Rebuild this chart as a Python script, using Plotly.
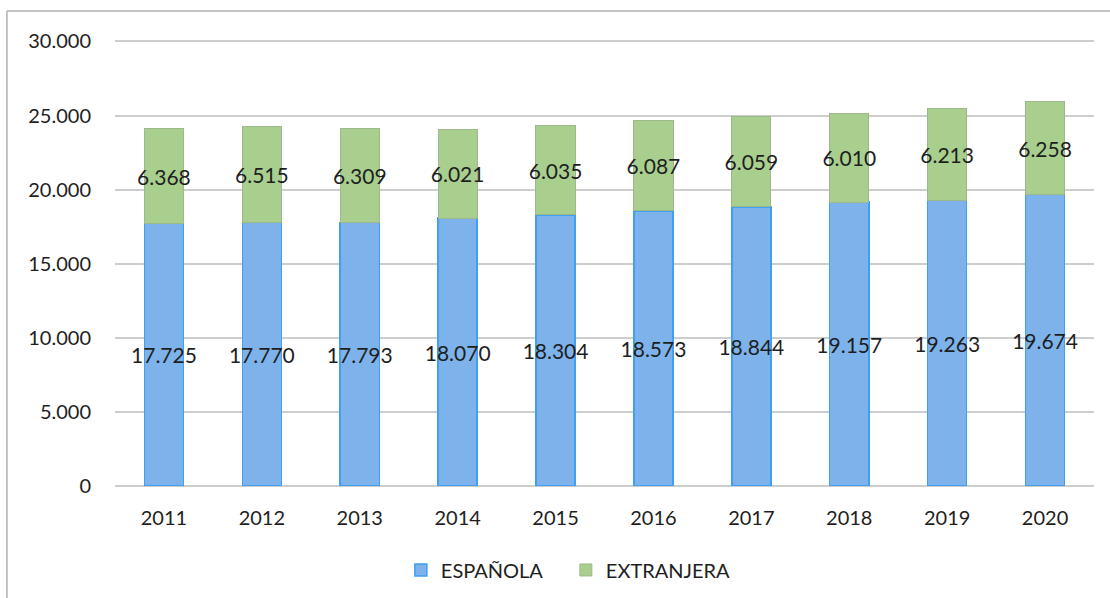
import plotly.graph_objects as go

years = ["2011", "2012", "2013", "2014", "2015", "2016", "2017", "2018", "2019", "2020"]
espanola = [17725, 17770, 17793, 18070, 18304, 18573, 18844, 19157, 19263, 19674]
extranjera = [6368, 6515, 6309, 6021, 6035, 6087, 6059, 6010, 6213, 6258]

FONT = "Lato"
TXT = "#1e1e1e"

fig = go.Figure()
fig.add_trace(go.Bar(
    x=years, y=espanola, name="ESPAÑOLA",
    marker=dict(color="#7db3ea", line=dict(color="#3f9ff0", width=1.5)),
    texttemplate="%{y:,}", textposition="inside", insidetextanchor="middle",
    constraintext="none", textangle=0,
    textfont=dict(family=FONT, size=21, color=TXT),
))
fig.add_trace(go.Bar(
    x=years, y=extranjera, name="EXTRANJERA",
    marker=dict(color="#a9cf8f", line=dict(color="#9db98c", width=1)),
    texttemplate="%{y:,}", textposition="inside", insidetextanchor="middle",
    constraintext="none", textangle=0,
    textfont=dict(family=FONT, size=21, color=TXT),
))

fig.update_layout(
    barmode="stack",
    bargap=0.6,
    width=1110, height=598,
    margin=dict(l=115, r=16, t=37, b=112, autoexpand=False),
    paper_bgcolor="white", plot_bgcolor="white",
    separators=",.",
    font=dict(family=FONT, size=20, color=TXT),
    legend=dict(orientation="h", x=0.292, xanchor="left", y=-0.187, yanchor="middle",
                entrywidth=120, entrywidthmode="pixels",
                font=dict(family=FONT, size=20, color=TXT), traceorder="normal"),
    xaxis=dict(showgrid=False, showline=False, ticks="", tickfont=dict(size=20),
               ticklabelstandoff=18),
    yaxis=dict(range=[0, 30300], tickvals=[0, 5000, 10000, 15000, 20000, 25000, 30000],
               tickformat=",", showgrid=True,
               gridcolor="#cdcdcd", gridwidth=1.5, zeroline=True, zerolinecolor="#cdcdcd",
               zerolinewidth=1.5, showline=False, ticks="", tickfont=dict(size=20),
               ticklabelstandoff=23),
    shapes=[
        dict(type="line", xref="paper", yref="paper", x0=-0.1104, x1=1.02, y0=1.058, y1=1.058,
             line=dict(color="#b0b0b0", width=1.5)),
        dict(type="line", xref="paper", yref="paper", x0=-0.1104, x1=-0.1104, y0=1.058, y1=-0.26,
             line=dict(color="#b0b0b0", width=1.5)),
    ],
)

fig.write_html("out.html", post_script="document.body.style.margin='0';",
               config={"displayModeBar": False})
